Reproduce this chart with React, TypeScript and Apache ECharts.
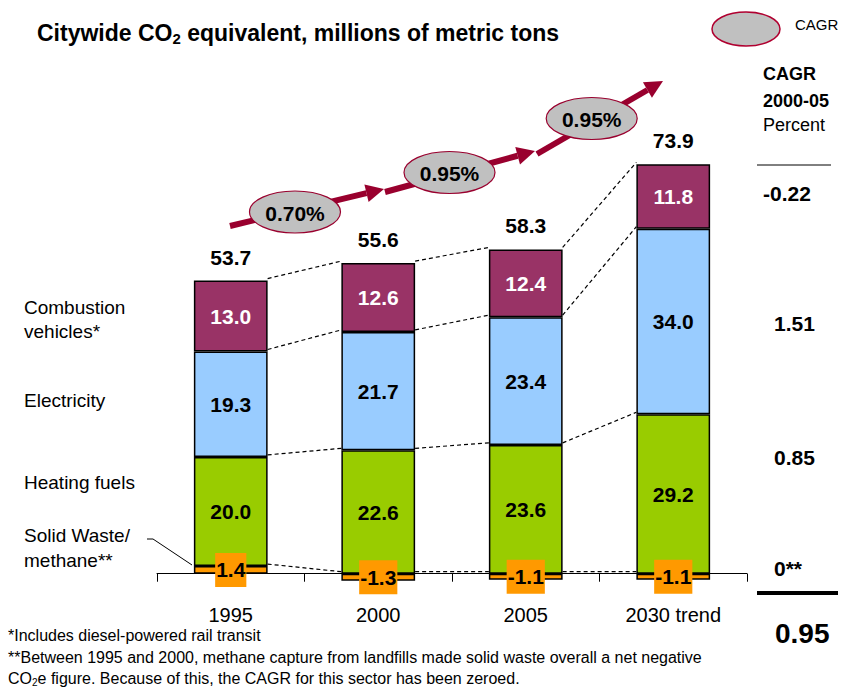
import React, { useEffect, useRef } from 'react';
import * as echarts from 'echarts';

const categories = ['1995', '2000', '2005', '2030 trend'];
const solidWaste = [1.4, -1.3, -1.1, -1.1];
const heatingFuels = [20.0, 22.6, 23.6, 29.2];
const electricity = [19.3, 21.7, 23.4, 34.0];
const combustionVehicles = [13.0, 12.6, 12.4, 11.8];
const totals = [53.7, 55.6, 58.3, 73.9];
const growthRates = ['0.70%', '0.95%', '0.95%'];
const sectorCagr = ['-0.22', '1.51', '0.85', '0**'];
const totalCagr = '0.95';

const FONT = '"Liberation Sans", Arial, Helvetica, sans-serif';
const RED = '#99002E';

function txt(text: string, x: number, y: number, size: number, bold = false, align = 'left'): any {
  return {
    type: 'text',
    x,
    y,
    z: 20,
    style: {
      text,
      fontSize: size,
      fontWeight: bold ? 'bold' : 'normal',
      fontFamily: FONT,
      fill: '#000',
      align,
      verticalAlign: 'middle',
    },
  };
}

function arrow(x1: number, y1: number, x2: number, y2: number): any[] {
  const dx = x2 - x1;
  const dy = y2 - y1;
  const len = Math.hypot(dx, dy);
  const ux = dx / len;
  const uy = dy / len;
  const hl = 18;
  const hw = 9;
  const bx = x2 - ux * hl;
  const by = y2 - uy * hl;
  const px = -uy;
  const py = ux;
  return [
    { type: 'line', z: 15, shape: { x1, y1, x2: bx, y2: by }, style: { stroke: RED, lineWidth: 6 } },
    {
      type: 'polygon',
      z: 15,
      shape: { points: [[x2, y2], [bx + px * hw, by + py * hw], [bx - px * hw, by - py * hw]] },
      style: { fill: RED },
    },
  ];
}

function levels(i: number): number[] {
  const base = solidWaste[i] > 0 ? solidWaste[i] : 0;
  const l3 = base;
  const l2 = l3 + heatingFuels[i];
  const l1 = l2 + electricity[i];
  const l0 = l1 + combustionVehicles[i];
  return [l0, l1, l2, l3];
}

const posTops = categories.map((_, i) => levels(i)[0]);

export default function App() {
  const ref = useRef<HTMLDivElement>(null);

  useEffect(() => {
    if (!ref.current) return;
    const chart = echarts.init(ref.current, undefined, { renderer: 'svg' });

    const segLabel = (color: string, extra: any = {}) => ({
      show: true,
      position: 'inside',
      color,
      fontWeight: 'bold',
      fontSize: 21,
      fontFamily: FONT,
      formatter: (p: any) => Number(p.value).toFixed(1),
      ...extra,
    });

    const barBase = {
      type: 'bar',
      stack: 'total',
      barWidth: '50%',
    };

    const ellipseCenters = [
      [295, 212],
      [449.5, 172.5],
      [591.7, 118.5],
    ];

    const graphics: any[] = [];
    graphics.push(...arrow(230, 226, 384, 189));
    graphics.push(...arrow(385, 192, 535, 151));
    graphics.push(...arrow(537, 154, 663, 81));
    growthRates.forEach((g, i) => {
      const [cx, cy] = ellipseCenters[i];
      graphics.push({
        type: 'ellipse',
        z: 16,
        shape: { cx, cy, rx: 45.5, ry: 21 },
        style: { fill: '#C0C0C0', stroke: RED, lineWidth: 1.2 },
      });
      graphics.push(txt(g, cx, cy + 1, 21, true, 'center'));
    });

    // legend
    graphics.push({
      type: 'ellipse',
      z: 16,
      shape: { cx: 746, cy: 29, rx: 34, ry: 17 },
      style: { fill: '#C0C0C0', stroke: '#B00030', lineWidth: 1.5 },
    });
    graphics.push(txt('CAGR', 795, 24, 15));

    // right column
    graphics.push(txt('CAGR', 763, 74, 18, true));
    graphics.push(txt('2000-05', 763, 101, 18, true));
    graphics.push(txt('Percent', 763, 124.5, 18));
    graphics.push({ type: 'line', z: 10, shape: { x1: 757, y1: 165, x2: 831, y2: 165 }, style: { stroke: '#000', lineWidth: 1 } });
    const cagrY = [193, 323, 457, 568];
    sectorCagr.forEach((v, i) => {
      graphics.push(txt(v, v.startsWith('-') ? 763 : 774, cagrY[i], 21, true));
    });
    graphics.push({ type: 'line', z: 10, shape: { x1: 757, y1: 593, x2: 838, y2: 593 }, style: { stroke: '#000', lineWidth: 4 } });
    graphics.push(txt(totalCagr, 775, 633, 28, true));

    // left labels
    graphics.push(txt('Combustion', 24, 307, 19));
    graphics.push(txt('vehicles*', 24, 331.5, 19));
    graphics.push(txt('Electricity', 24, 400, 19));
    graphics.push(txt('Heating fuels', 24, 482, 19));
    graphics.push(txt('Solid Waste/', 24, 535, 19));
    graphics.push(txt('methane**', 24, 560, 19));
    graphics.push({
      type: 'polyline',
      z: 10,
      shape: { points: [[147, 539], [153, 539], [192, 565]] },
      style: { stroke: '#000', lineWidth: 1, fill: 'none' },
    });

    // footnotes
    graphics.push(txt('*Includes diesel-powered rail transit', 8, 635, 16));
    graphics.push(
      txt('**Between 1995 and 2000, methane capture from landfills made solid waste overall a net negative', 8, 657, 16)
    );
    graphics.push({
      type: 'text',
      x: 8,
      y: 678,
      z: 20,
      style: {
        text: '{a|CO}{b|2}{a|e figure. Because of this, the CAGR for this sector has been zeroed.}',
        fontFamily: FONT,
        verticalAlign: 'middle',
        rich: {
          a: { fontSize: 16, fontFamily: FONT, fill: '#000', color: '#000', lineHeight: 18 },
          b: { fontSize: 10, fontFamily: FONT, fill: '#000', color: '#000', verticalAlign: 'bottom', lineHeight: 12 },
        },
      },
    });

    const option: any = {
      animation: false,
      backgroundColor: '#fff',
      title: {
        text: '{a|Citywide CO}{b|2}{a| equivalent, millions of metric tons}',
        left: 37,
        top: 19,
        padding: 0,
        textStyle: {
          rich: {
            a: { fontSize: 23, fontWeight: 'bold', fontFamily: FONT, color: '#000', lineHeight: 27 },
            b: { fontSize: 15, fontWeight: 'bold', fontFamily: FONT, color: '#000', verticalAlign: 'bottom', lineHeight: 17 },
          },
        },
      },
      grid: { left: 157, right: 98, top: 137, bottom: 88, containLabel: false },
      xAxis: {
        type: 'category',
        data: categories,
        axisLine: { onZero: true, lineStyle: { color: '#000', width: 1 } },
        axisTick: { show: true, length: 8, lineStyle: { color: '#000', width: 1 } },
        axisLabel: { color: '#000', fontSize: 20, fontFamily: FONT, margin: 4 },
      },
      yAxis: { type: 'value', min: -5, max: 80, interval: 5, show: false, splitLine: { show: false } },
      series: [
        {
          ...barBase,
          name: 'Solid Waste/methane',
          z: 4,
          data: solidWaste,
          itemStyle: { color: '#FF9900', borderColor: '#000', borderWidth: 1.5 },
          label: segLabel('#000', { backgroundColor: '#FF9900', padding: [7, 1, 6, 1] }),
        },
        {
          ...barBase,
          name: 'Heating fuels',
          data: heatingFuels,
          itemStyle: { color: '#99CC00', borderColor: '#000', borderWidth: 1.5 },
          label: segLabel('#000'),
        },
        {
          ...barBase,
          name: 'Electricity',
          data: electricity,
          itemStyle: { color: '#99CCFF', borderColor: '#000', borderWidth: 1.5 },
          label: segLabel('#000'),
        },
        {
          ...barBase,
          name: 'Combustion vehicles',
          data: combustionVehicles,
          itemStyle: { color: '#993366', borderColor: '#000', borderWidth: 1.5 },
          label: segLabel('#fff'),
        },
        {
          type: 'scatter',
          name: 'Total',
          data: posTops,
          symbolSize: 0,
          itemStyle: { color: '#000', opacity: 1 },
          label: {
            show: true,
            position: 'top',
            distance: 13,
            color: '#000',
            opacity: 1,
            fontWeight: 'bold',
            fontSize: 21,
            fontFamily: FONT,
            formatter: (p: any) => totals[p.dataIndex].toFixed(1),
          },
        },
        {
          type: 'custom',
          name: 'connectors',
          z: 1,
          data: [[0, 0], [1, 0], [2, 0]],
          encode: { x: 0, y: 1 },
          renderItem: (params: any, api: any) => {
            const i = params.dataIndex;
            const a = levels(i);
            const b = levels(i + 1);
            const half = api.size([1, 0])[0] * 0.25;
            const children = a.map((va, k) => {
              const p1 = api.coord([i, va]);
              const p2 = api.coord([i + 1, b[k]]);
              return {
                type: 'line',
                shape: { x1: p1[0] + half, y1: p1[1] - 2, x2: p2[0] - half, y2: p2[1] - 2 },
                style: { stroke: '#000', lineWidth: 1.2, lineDash: [4, 3] },
              };
            });
            return { type: 'group', children };
          },
        },
      ],
      graphic: graphics,
    };

    chart.setOption(option);
    return () => chart.dispose();
  }, []);

  return (
    <div style={{ position: 'absolute', left: 0, top: 0, width: 845, height: 689, background: '#fff' }}>
      <div ref={ref} style={{ width: 845, height: 689 }} />
    </div>
  );
}
